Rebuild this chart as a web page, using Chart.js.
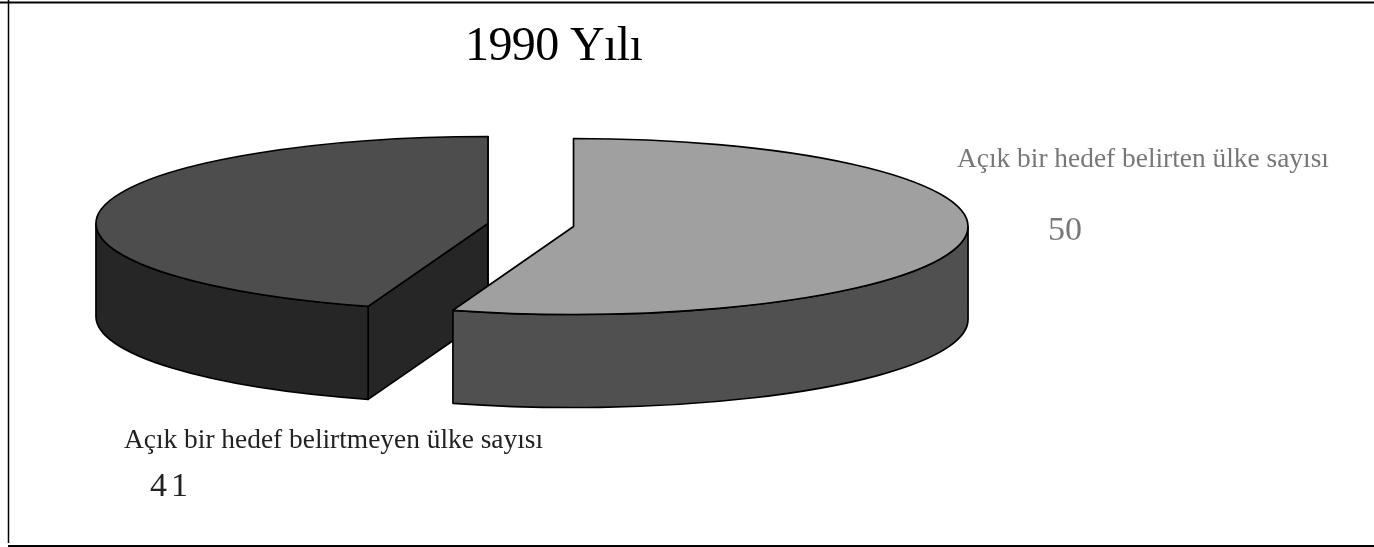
<!DOCTYPE html>
<html lang="tr">
<head>
<meta charset="utf-8">
<style>
html,body{margin:0;padding:0;background:#fff;overflow:hidden}
canvas{display:block}
</style>
<script src="https://cdn.jsdelivr.net/npm/chart.js@4"></script>
</head>
<body>
<canvas id="c" width="1374" height="547"></canvas>
<script>
const titleText = "1990 Yılı";
const categories = ["Açık bir hedef belirten ülke sayısı", "Açık bir hedef belirtmeyen ülke sayısı"];
const values = [50, 41];
const topColors = ["#a0a0a0", "#4d4d4d"];
const wallColors = ["#505050", "#262626"];
const textColors = ["#777777", "#222222"];

const view = {cx: 530.75, cy: 225, rx: [394.5, 392], ry: [88, 87], depth: 93, explode: 43.3};
const labelPos = [
  {x: 957, y: 167, vx: 1048, vy: 240, spacing: "0px"},
  {x: 124, y: 448, vx: 150, vy: 496, spacing: "4px"}
];

function geom(chart, i) {
  const a = chart.getDatasetMeta(0).data[i];
  const rx = view.rx[i], ry = view.ry[i];
  const mid = (a.startAngle + a.endAngle) / 2;
  const x = view.cx + view.explode * Math.cos(mid);
  const y = view.cy + view.explode * (ry / rx) * Math.sin(mid);
  return {a, rx, ry, x, y, start: a.startAngle, end: a.endAngle,
    kx: rx / a.outerRadius, ky: ry / a.outerRadius,
    pt: (t, dz = 0) => [x + rx * Math.cos(t), y + ry * Math.sin(t) + dz]};
}

const pie3d = {
  id: "pie3d",
  // The slices are drawn below through a projection, so the default pass is skipped.
  beforeDatasetDraw() { return false; },
  afterDatasetsDraw(chart) {
    const ctx = chart.ctx, D = view.depth;
    ctx.save();
    ctx.lineWidth = 1.7; ctx.strokeStyle = "#000"; ctx.lineJoin = "round";
    // side walls, back to front: the left slice first, so the right slice covers it
    [1, 0].forEach(i => {
      const g = geom(chart, i);
      ctx.fillStyle = wallColors[i];
      const faces = [];
      if (-Math.cos(g.start) > 1e-6) faces.push(g.start);
      if (Math.cos(g.end) > -1e-6) faces.push(g.end);
      faces.forEach(t => {
        const p = g.pt(t), q = g.pt(t, D);
        ctx.beginPath();
        ctx.moveTo(g.x, g.y); ctx.lineTo(p[0], p[1]); ctx.lineTo(q[0], q[1]); ctx.lineTo(g.x, g.y + D);
        ctx.closePath(); ctx.fill(); ctx.stroke();
      });
      const lo = Math.max(g.start, 0), hi = Math.min(g.end, Math.PI);
      if (hi > lo) {
        ctx.beginPath();
        ctx.ellipse(g.x, g.y, g.rx, g.ry, 0, lo, hi);
        ctx.ellipse(g.x, g.y + D, g.rx, g.ry, 0, hi, lo, true);
        ctx.closePath(); ctx.fill(); ctx.stroke();
      }
    });
    // top faces: the library's own arc elements, squashed into ellipses
    [1, 0].forEach(i => {
      const g = geom(chart, i);
      ctx.save();
      ctx.translate(g.x, g.y);
      ctx.scale(g.kx, g.ky);
      ctx.translate(-g.a.x, -g.a.y);
      g.a.draw(ctx);
      ctx.restore();
      ctx.beginPath();
      ctx.moveTo(g.x, g.y);
      ctx.ellipse(g.x, g.y, g.rx, g.ry, 0, g.start, g.end);
      ctx.closePath(); ctx.stroke();
    });
    ctx.restore();
  },
  afterDraw(chart) {
    const ctx = chart.ctx;
    ctx.save();
    // frame
    ctx.strokeStyle = "#000"; ctx.lineWidth = 2;
    ctx.beginPath(); ctx.moveTo(0, 2.5); ctx.lineTo(1374, 2.5); ctx.stroke();
    ctx.beginPath(); ctx.moveTo(8, 546); ctx.lineTo(1374, 546); ctx.stroke();
    ctx.lineWidth = 1.5;
    ctx.beginPath(); ctx.moveTo(8.5, 0); ctx.lineTo(8.5, 543); ctx.stroke();
    // text
    ctx.textBaseline = "alphabetic"; ctx.textAlign = "left";
    ctx.fillStyle = "#000";
    ctx.font = '48px "Liberation Serif"';
    ctx.letterSpacing = "-0.6px";
    ctx.fillText(titleText, 465, 60);
    categories.forEach((c, i) => {
      const p = labelPos[i];
      ctx.fillStyle = textColors[i];
      ctx.font = '27.4px "Liberation Serif"';
      ctx.letterSpacing = "0px";
      ctx.fillText(c, p.x, p.y);
      ctx.font = '34px "Liberation Serif"';
      ctx.letterSpacing = p.spacing;
      ctx.fillText(String(values[i]), p.vx, p.vy);
    });
    ctx.restore();
  }
};

new Chart(document.getElementById("c"), {
  type: "pie",
  data: {
    labels: categories,
    datasets: [{
      data: values,
      backgroundColor: topColors,
      borderWidth: 0
    }]
  },
  options: {
    responsive: false,
    animation: false,
    events: [],
    plugins: {legend: {display: false}, title: {display: false}, tooltip: {enabled: false}}
  },
  plugins: [pie3d]
});
</script>
</body>
</html>
